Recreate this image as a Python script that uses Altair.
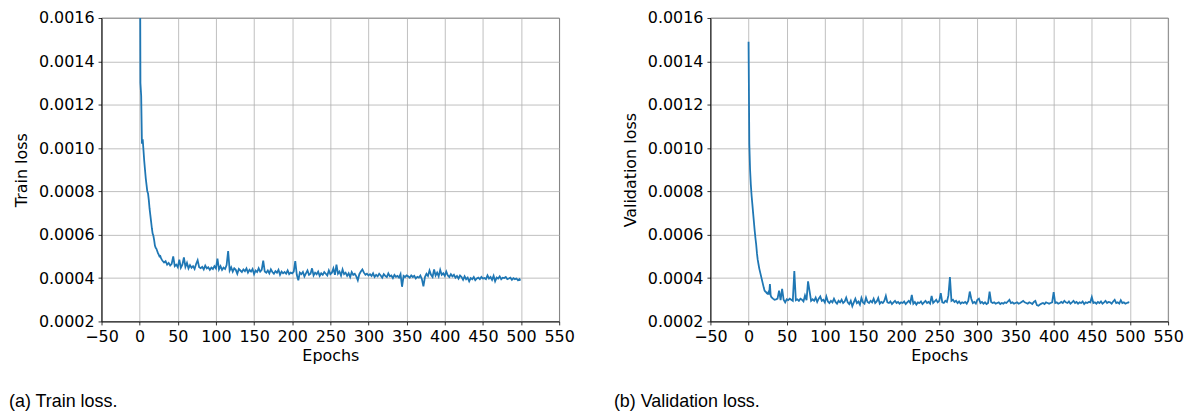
import altair as alt
import pandas as pd
import numpy as np

# ---------------- data (loss values in units of 1e-4) ----------------
epochs = list(range(0, 30)) + list(range(30, 499, 2)) + [499]

train_loss_e4 = [
    # 0-29
    25.0, 13.0, 12.4, 10.2, 10.4, 9.9, 9.4, 9.0, 8.6, 8.3,
    8.0, 7.9, 7.6, 7.2, 6.9, 6.6, 6.3, 6.05, 5.95, 5.75,
    5.5, 5.4, 5.35, 5.25, 5.15, 5.08, 5.0, 5.02, 4.92, 4.85,
    # 30-50
    4.80, 4.72, 4.78, 4.62, 4.70, 4.58, 4.66, 5.00, 4.55, 4.62, 4.50,
    # 52-64
    4.85, 4.48, 4.62, 4.95, 4.52, 4.70, 4.45,
    # 66-98
    4.60, 4.48, 4.55, 4.42, 4.65, 4.82, 4.50, 4.46, 4.52, 4.40,
    4.58, 4.45, 4.50, 4.38, 4.48, 4.42, 4.55,
    # 100-130
    4.45, 4.90, 4.40, 4.55, 4.38, 4.48, 4.42, 4.60, 5.25, 4.35,
    4.50, 4.30, 4.45, 4.38, 4.20, 4.42,
    # 132-160
    4.35, 4.28, 4.40, 4.32, 4.45, 4.25, 4.38, 4.30, 4.42, 4.18,
    4.35, 4.28, 4.45, 4.30, 4.38,
    # 162-200
    4.80, 4.30, 4.25, 4.35, 4.22, 4.40, 4.28, 4.20, 4.32, 4.25,
    4.38, 4.15, 4.30, 4.22, 4.28, 4.20, 4.35, 4.18, 4.25, 4.22,
    # 202-250
    4.30, 4.78, 4.15, 3.90, 4.25, 4.18, 4.28, 4.08, 4.22, 4.35,
    4.15, 4.20, 4.45, 4.12, 4.25, 4.18, 4.30, 4.10, 4.22, 4.15,
    4.28, 4.20, 4.12, 4.35, 4.18,
    # 252-300
    4.25, 4.45, 4.15, 4.62, 4.20, 4.30, 4.12, 4.40, 4.18, 4.25,
    4.10, 4.22, 4.05, 4.28, 4.15, 4.20, 4.08, 3.90, 4.18, 4.30,
    4.40, 4.25, 4.15, 4.20, 4.12,
    # 302-350
    4.18, 4.10, 4.22, 4.05, 4.15, 4.08, 4.20, 4.12, 4.02, 4.18,
    4.10, 4.05, 4.22, 4.08, 4.12, 4.00, 4.15, 4.06, 4.10, 4.02,
    4.18, 3.60, 4.10, 4.05, 4.12,
    # 352-400
    4.08, 4.02, 4.12, 4.05, 4.10, 3.98, 4.06, 4.02, 4.12, 3.95,
    3.62, 4.05, 4.20, 4.10, 4.35, 4.15, 4.05, 4.40, 4.12, 4.25,
    4.08, 4.38, 4.15, 4.22, 4.10,
    # 402-450
    4.30, 4.12, 4.05, 4.18, 4.08, 4.15, 4.02, 4.10, 3.98, 4.12,
    4.05, 3.92, 4.08, 3.95, 4.02, 3.85, 4.00, 3.95, 4.05, 3.90,
    3.98, 4.02, 3.95, 4.05, 3.98,
    # 452-498
    4.00, 3.95, 4.12, 3.98, 4.05, 3.92, 4.10, 3.85, 4.02, 3.98,
    4.08, 3.95, 4.02, 4.00, 4.05, 3.95, 3.98, 4.02, 3.92, 4.00,
    3.95, 3.98, 3.90, 3.95,
    # 499
    3.88,
]

val_loss_e4 = [
    # 0-29
    14.9, 10.2, 9.0, 8.3, 7.8, 7.4, 7.0, 6.6, 6.2, 5.85,
    5.55, 5.15, 4.85, 4.65, 4.45, 4.30, 4.15, 4.00, 3.85, 3.70,
    3.55, 3.42, 3.38, 3.35, 3.30, 3.28, 3.35, 3.25, 3.72, 3.20,
    # 30-50
    3.12, 3.05, 3.00, 3.02, 3.05, 3.42, 2.98, 3.50, 3.00, 2.88, 3.02,
    # 52-64
    2.98, 3.05, 3.00, 2.95, 4.32, 2.98, 3.02,
    # 66-98
    2.95, 3.05, 3.00, 2.92, 3.20, 2.98, 3.85, 3.40, 2.95, 3.02,
    2.95, 3.10, 2.90, 3.05, 3.15, 2.95, 3.00,
    # 100-130
    2.88, 3.15, 2.92, 2.85, 2.95, 2.88, 3.05, 2.90, 2.82, 2.95,
    2.88, 3.00, 2.85, 2.92, 3.10, 2.88,
    # 132-160
    2.80, 2.95, 2.70, 2.88, 3.05, 2.85, 2.92, 2.78, 3.08, 2.88,
    2.82, 3.10, 2.90, 2.85, 2.95,
    # 162-200
    2.88, 3.05, 2.85, 2.92, 3.08, 2.82, 2.90, 2.85, 2.95, 3.18,
    2.88, 2.85, 2.92, 2.80, 2.88, 2.95, 2.85, 2.90, 2.82, 2.88,
    # 202-250
    2.85, 2.92, 2.80, 2.88, 2.95, 2.85, 3.22, 2.82, 2.90, 2.78,
    2.88, 2.85, 2.92, 2.80, 2.88, 2.95, 2.85, 2.90, 2.82, 3.18,
    2.85, 2.92, 3.00, 2.88, 2.95,
    # 252-300
    3.30, 2.88, 2.85, 2.95, 2.90, 3.20, 4.05, 2.95, 3.00, 2.90,
    2.95, 2.85, 2.92, 2.82, 2.88, 2.85, 2.90, 2.82, 2.95, 3.38,
    3.05, 2.85, 2.90, 2.82, 3.00,
    # 302-350
    3.05, 2.85, 2.90, 2.82, 2.88, 2.80, 2.85, 3.38, 2.90, 2.85,
    2.88, 2.82, 2.85, 2.88, 2.80, 2.85, 2.82, 2.88, 2.85, 2.92,
    3.00, 2.85, 2.88, 2.82, 2.85,
    # 352-400
    2.88, 2.82, 2.85, 2.90, 2.95, 2.88, 2.85, 2.82, 2.88, 2.85,
    2.80, 2.90, 2.95, 2.75, 2.72, 2.78, 2.82, 2.85, 2.80, 2.88,
    2.85, 2.82, 2.85, 2.88, 3.35,
    # 402-450
    2.85, 2.88, 2.82, 2.85, 2.90, 2.85, 2.95, 2.88, 2.85, 2.92,
    2.82, 2.88, 2.95, 2.85, 2.90, 2.82, 2.88, 2.85, 2.92, 2.80,
    2.88, 2.85, 2.90, 2.88, 3.12,
    # 452-498
    2.85, 2.88, 2.82, 2.90, 2.85, 2.92, 2.82, 2.88, 2.95, 2.85,
    2.90, 2.88, 2.82, 2.92, 3.00, 2.85, 2.88, 2.82, 2.98, 2.85,
    2.88, 2.82, 2.85, 2.88,
    # 499
    2.86,
]

x_ticks = list(range(-50, 551, 50))
y_ticks = [0.0002, 0.0004, 0.0006, 0.0008, 0.0010, 0.0012, 0.0014, 0.0016]
y_titles = ["Train loss", "Validation loss"]
captions = ["(a) Train loss.", "(b) Validation loss."]
x_title = "Epochs"


def panel(loss_e4, ytitle, caption, cap_x):
    df = pd.DataFrame({"epoch": epochs, "loss": np.array(loss_e4) * 1e-4})
    line = alt.Chart(df).mark_line(color="#1f77b4", strokeWidth=1.8, clip=True).encode(
        x=alt.X(
            "epoch:Q",
            scale=alt.Scale(domain=[-50, 550], nice=False, zero=False),
            axis=alt.Axis(values=x_ticks, title=x_title, format="d",
                          labelOverlap=False, labelBound=False, labelFlush=False),
        ),
        y=alt.Y(
            "loss:Q",
            scale=alt.Scale(domain=[0.0002, 0.0016], nice=False, zero=False),
            axis=alt.Axis(values=y_ticks, title=ytitle, format=".4f", titlePadding=9,
                          labelOverlap=False, labelFlush=False),
        ),
    )
    cap = alt.Chart(pd.DataFrame({"t": [caption]})).mark_text(
        align="left", baseline="middle", font="Liberation Sans", fontSize=18, color="black"
    ).encode(x=alt.value(cap_x), y=alt.value(386), text="t:N")
    return alt.layer(line, cap).properties(width=460, height=305)


left = panel(train_loss_e4, y_titles[0], captions[0], -93)
right = panel(val_loss_e4, y_titles[1], captions[1], -97)

chart = alt.hconcat(left, right, spacing=38).properties(
    padding={"left": 0, "top": 0, "right": 0, "bottom": 0}
).configure_view(
    stroke="black", strokeWidth=0.8
).configure_axis(
    labelFont="DejaVu Sans",
    labelFontSize=16,
    labelColor="black",
    titleFont="DejaVu Sans",
    titleFontSize=16,
    titleFontWeight="normal",
    titleColor="black",
    domainColor="black",
    domainWidth=0.8,
    tickColor="black",
    tickWidth=0.8,
    tickSize=3.5,
    labelPadding=4,
    gridColor="#b0b0b0",
    gridWidth=0.8,
    gridOpacity=1,
).configure_axisX(titlePadding=3)

chart.save("out.html", embed_options={"renderer": "svg", "actions": False})
